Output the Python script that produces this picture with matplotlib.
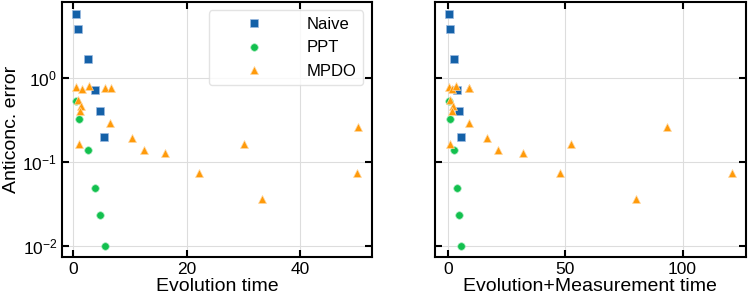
import numpy as np
import matplotlib
matplotlib.use("Agg")
import matplotlib.pyplot as plt

plt.rcParams['font.family'] = ['Liberation Sans', 'DejaVu Sans']

# Naive
naive_t = [0.47, 0.83, 2.47, 3.87, 4.7, 5.46]
naive_tm = [0.57, 0.85, 2.4, 4.0, 4.8, 5.5]
naive_err = [5.9, 3.91, 1.71, 0.72, 0.41, 0.198]

# PPT
ppt_t = [0.47, 0.94, 2.52, 3.87, 4.7, 5.58]
ppt_tm = [0.28, 0.85, 2.56, 4.0, 4.84, 5.7]
ppt_err = [0.54, 0.327, 0.138, 0.0495, 0.0234, 0.0101]

# MPDO
mpdo_t = [0.47, 1.47, 2.82, 5.64, 6.58, 0.88, 1.41, 1.06, 6.52, 0.94,
          10.3, 12.4, 16.1, 22.2, 30.0, 33.3, 50.1, 49.9]
mpdo_tm = [0.28, 1.56, 3.56, 8.9, 9.0, 1.0, 2.1, 1.56, 8.96, 0.85,
           16.5, 21.2, 32.1, 47.7, 52.3, 80.2, 93.2, 120.9]
mpdo_err = [0.787, 0.74, 0.82, 0.766, 0.766, 0.55, 0.463, 0.404, 0.295, 0.163,
            0.194, 0.138, 0.127, 0.0748, 0.166, 0.0366, 0.26, 0.0748]

c_naive = '#1461a8'
c_ppt = '#12c04e'
c_mpdo = '#ff9a0a'


def draw(ax, xn, xp, xm):
    ax.plot(xn, naive_err, 's', color=c_naive, ms=5.2, mec='#9dbbe0', mew=0.5, label='Naive')
    ax.plot(xp, ppt_err, 'o', color=c_ppt, ms=5.4, mec='#a0e8b8', mew=0.5, label='PPT')
    ax.plot(xm, mpdo_err, '^', color=c_mpdo, ms=6.2, mec='#ffd8a0', mew=0.5, label='MPDO')
    ax.set_yscale('log')
    ax.grid(True, color='#dddddd', lw=0.8)
    ax.set_axisbelow(True)
    ax.tick_params(which='major', direction='in', top=True, right=True,
                   length=5, width=1.5, labelsize=12.5)
    ax.tick_params(which='minor', left=False, right=False)
    for s in ax.spines.values():
        s.set_linewidth(1.5)


fig = plt.figure(figsize=(7.48, 3.0), dpi=100)
ax1 = fig.add_axes([0.083, 0.143, 0.414, 0.850])
ax2 = fig.add_axes([0.581, 0.143, 0.416, 0.850], sharey=ax1)

draw(ax1, naive_t, ppt_t, mpdo_t)
draw(ax2, naive_tm, ppt_tm, mpdo_tm)

ax1.set_xticks([0, 20, 40])
ax2.set_xticks([0, 50, 100])
ax1.set_xlabel('Evolution time', fontsize=14, labelpad=1)
ax2.set_xlabel('Evolution+Measurement time', fontsize=14, labelpad=1)
ax1.set_ylabel('Anticonc. error', fontsize=14, labelpad=2)
ax2.tick_params(labelleft=False)

ax1.legend(loc='upper right', fontsize=12, handlelength=4.6, handletextpad=0.9,
           markerscale=1.0, framealpha=0.8, edgecolor='#dddddd',
           borderaxespad=0.5)

fig.savefig('out.png', dpi=100)
